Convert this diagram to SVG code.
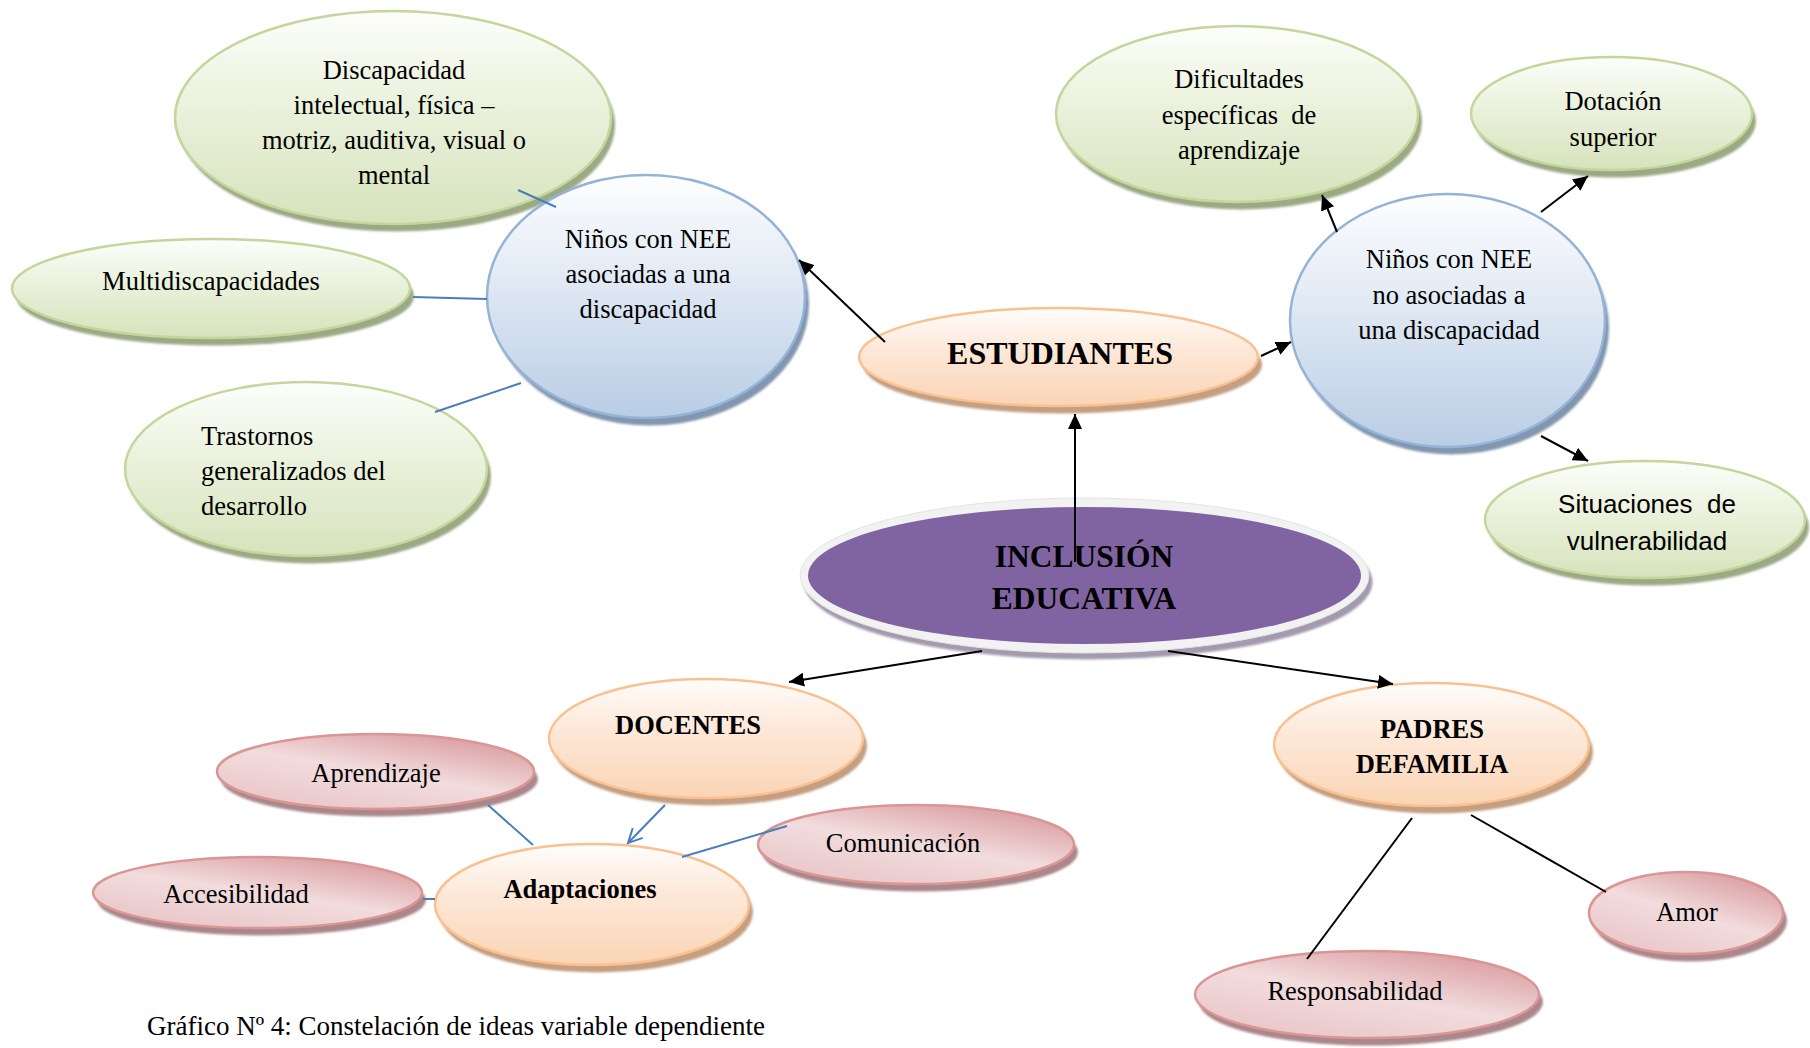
<svg xmlns="http://www.w3.org/2000/svg" width="1810" height="1048" viewBox="0 0 1810 1048">
<style>
.t{font-family:"Liberation Serif","Times New Roman",serif;font-size:26.5px;fill:#000;text-anchor:middle}
.l{text-anchor:start}
.b{font-weight:bold}
.sans{font-family:"Liberation Sans",Arial,sans-serif}
.pre{white-space:pre}
.green{fill:url(#gGreen);stroke:#c3d69b;stroke-width:2.5}
.blue{fill:url(#gBlue);stroke:#95b3d7;stroke-width:2.5}
.orange{fill:url(#gOrange);stroke:#fac08f;stroke-width:2.5}
.pink{fill:url(#gPink);stroke:#d99694;stroke-width:2.5}
.shg{fill:#9ca985;filter:url(#blur)}
.shb{fill:#8296b0;filter:url(#blur)}
.sho{fill:#c49f82;filter:url(#blur)}
.shp{fill:#ab878b;filter:url(#blur)}
.k{stroke:#000;stroke-width:2;fill:none}
.ka{marker-end:url(#ah)}
.bl{stroke:#4a7ebb;stroke-width:2;fill:none}
</style>
<defs>
<linearGradient id="gGreen" x1="0" y1="0" x2="0" y2="1">
<stop offset="0" stop-color="#fdfefb"/><stop offset="0.35" stop-color="#eef4e2"/><stop offset="1" stop-color="#d6e3bc"/>
</linearGradient>
<linearGradient id="gBlue" x1="0" y1="0" x2="0" y2="1">
<stop offset="0" stop-color="#fdfeff"/><stop offset="0.4" stop-color="#e3ebf5"/><stop offset="1" stop-color="#b9cde5"/>
</linearGradient>
<linearGradient id="gOrange" x1="0" y1="0" x2="0" y2="1">
<stop offset="0" stop-color="#fffdfb"/><stop offset="0.4" stop-color="#fde9da"/><stop offset="1" stop-color="#fbd4b4"/>
</linearGradient>
<linearGradient id="gPink" x1="0.85" y1="0" x2="0.15" y2="1">
<stop offset="0" stop-color="#d8979b"/><stop offset="0.5" stop-color="#f2dcdd"/><stop offset="1" stop-color="#e8c4c6"/>
</linearGradient>
<filter id="blur" x="-10%" y="-10%" width="120%" height="130%"><feGaussianBlur stdDeviation="1.2"/></filter>
<marker id="ah" markerUnits="userSpaceOnUse" markerWidth="16" markerHeight="14" refX="15" refY="7" orient="auto">
<path d="M0,0 L15,7 L0,14 z" fill="#000"/>
</marker>
<marker id="ahOpen" markerUnits="userSpaceOnUse" markerWidth="18" markerHeight="18" refX="15" refY="8" orient="auto">
<path d="M1,1 L15,8 L1,15" fill="none" stroke="#4a7ebb" stroke-width="2"/>
</marker>
</defs>

<rect width="1810" height="1048" fill="#fff"/>

<g id="n-discapacidad">
<ellipse class="shg" cx="397" cy="125" rx="218" ry="106.5"/>
<ellipse class="green" cx="393" cy="117.5" rx="218" ry="106.5"/>
<text class="t"><tspan x="394" y="79">Discapacidad</tspan><tspan x="394" y="114">intelectual, física –</tspan><tspan x="394" y="149">motriz, auditiva, visual o</tspan><tspan x="394" y="184">mental</tspan></text>
</g>

<g id="n-multi">
<ellipse class="shg" cx="215" cy="296" rx="199" ry="49.5"/>
<ellipse class="green" cx="211" cy="288.5" rx="199" ry="49.5"/>
<text class="t" x="211" y="290">Multidiscapacidades</text>
</g>

<g id="n-trastornos">
<ellipse class="shg" cx="310" cy="476.5" rx="181" ry="87"/>
<ellipse class="green" cx="306" cy="469" rx="181" ry="87"/>
<text class="t l"><tspan x="201" y="445">Trastornos</tspan><tspan x="201" y="480">generalizados del</tspan><tspan x="201" y="515">desarrollo</tspan></text>
</g>

<g id="n-nee-asociadas">
<ellipse class="shb" cx="650" cy="304" rx="159" ry="121.5"/>
<ellipse class="blue" cx="646" cy="296.5" rx="159" ry="121.5"/>
<text class="t"><tspan x="648" y="248">Niños con NEE</tspan><tspan x="648" y="283">asociadas a una</tspan><tspan x="648" y="318">discapacidad</tspan></text>
</g>

<g id="n-estudiantes">
<ellipse class="sho" cx="1062.5" cy="364.5" rx="199.5" ry="49"/>
<ellipse class="orange" cx="1058.5" cy="357" rx="199.5" ry="49"/>
<text class="t b" x="1060" y="364" style="font-size:32px">ESTUDIANTES</text>
</g>

<g id="n-nee-no-asociadas">
<ellipse class="shb" cx="1451.5" cy="328" rx="157.5" ry="126.5"/>
<ellipse class="blue" cx="1447.5" cy="320.5" rx="157.5" ry="126.5"/>
<text class="t"><tspan x="1449" y="268">Niños con NEE</tspan><tspan x="1449" y="304">no asociadas a</tspan><tspan x="1449" y="339">una discapacidad</tspan></text>
</g>

<g id="n-dificultades">
<ellipse class="shg" cx="1241" cy="121.5" rx="181" ry="88"/>
<ellipse class="green" cx="1237" cy="114" rx="181" ry="88"/>
<text class="t pre"><tspan x="1239" y="88">Dificultades</tspan><tspan x="1239" y="124">específicas  de</tspan><tspan x="1239" y="159">aprendizaje</tspan></text>
</g>

<g id="n-dotacion">
<ellipse class="shg" cx="1615.5" cy="121" rx="140.5" ry="56.5"/>
<ellipse class="green" cx="1611.5" cy="113.5" rx="140.5" ry="56.5"/>
<text class="t"><tspan x="1613" y="110">Dotación</tspan><tspan x="1613" y="146">superior</tspan></text>
</g>

<g id="n-situaciones">
<ellipse class="shg" cx="1649" cy="527" rx="160" ry="58.5"/>
<ellipse class="green" cx="1645" cy="519.5" rx="160" ry="58.5"/>
<text class="t sans pre" style="font-size:26px"><tspan x="1647" y="513">Situaciones  de</tspan><tspan x="1647" y="550">vulnerabilidad</tspan></text>
</g>

<g id="n-inclusion">
<ellipse cx="1088" cy="582" rx="284.5" ry="77.5" fill="#a39aae" filter="url(#blur)"/>
<ellipse cx="1084.5" cy="575.5" rx="284.5" ry="77.5" fill="#f2f2f2" stroke="#e4e4e4" stroke-width="1"/>
<ellipse cx="1084.5" cy="575.5" rx="276.5" ry="68.5" fill="#8064a2"/>
</g>

<g id="n-docentes">
<ellipse class="sho" cx="710" cy="746" rx="157" ry="59.5"/>
<ellipse class="orange" cx="706" cy="738.5" rx="157" ry="59.5"/>
<text class="t b" x="688" y="734">DOCENTES</text>
</g>

<g id="n-adaptaciones">
<ellipse class="sho" cx="596" cy="912" rx="157" ry="60.5"/>
<ellipse class="orange" cx="592" cy="904.5" rx="157" ry="60.5"/>
<text class="t b" x="580" y="898">Adaptaciones</text>
</g>

<g id="n-aprendizaje">
<ellipse class="shp" cx="379.5" cy="779" rx="158.5" ry="37.5"/>
<ellipse class="pink" cx="375.5" cy="771.5" rx="158.5" ry="37.5"/>
<text class="t" x="376" y="782">Aprendizaje</text>
</g>

<g id="n-accesibilidad">
<ellipse class="shp" cx="261.5" cy="900" rx="164.5" ry="35.5"/>
<ellipse class="pink" cx="257.5" cy="892.5" rx="164.5" ry="35.5"/>
<text class="t" x="236" y="903">Accesibilidad</text>
</g>

<g id="n-comunicacion">
<ellipse class="shp" cx="920" cy="852" rx="158" ry="39.5"/>
<ellipse class="pink" cx="916" cy="844.5" rx="158" ry="39.5"/>
<text class="t" x="903" y="852">Comunicación</text>
</g>

<g id="n-padres">
<ellipse class="sho" cx="1435.5" cy="752" rx="157.5" ry="61.5"/>
<ellipse class="orange" cx="1431.5" cy="744.5" rx="157.5" ry="61.5"/>
<text class="t b"><tspan x="1432" y="738">PADRES</tspan><tspan x="1432" y="773">DEFAMILIA</tspan></text>
</g>

<g id="n-amor">
<ellipse class="shp" cx="1690" cy="920.5" rx="97" ry="41"/>
<ellipse class="pink" cx="1686" cy="913" rx="97" ry="41"/>
<text class="t" x="1687" y="921">Amor</text>
</g>

<g id="n-responsabilidad">
<ellipse class="shp" cx="1371" cy="1002" rx="172" ry="43.5"/>
<ellipse class="pink" cx="1367" cy="994.5" rx="172" ry="43.5"/>
<text class="t" x="1355" y="1000">Responsabilidad</text>
</g>

<g id="connectors">
<line class="k ka" x1="1075" y1="562" x2="1075" y2="414"/>
<line class="k ka" x1="885" y1="342" x2="799" y2="260"/>
<line class="k ka" x1="1261" y1="356" x2="1291" y2="342"/>
<line class="k ka" x1="1337" y1="232" x2="1322" y2="195"/>
<line class="k ka" x1="1541" y1="212" x2="1588" y2="176"/>
<line class="k ka" x1="1541" y1="436" x2="1588" y2="461"/>
<line class="k ka" x1="982" y1="651" x2="789" y2="682"/>
<line class="k ka" x1="1168" y1="651" x2="1393" y2="684"/>
<line class="k" x1="1412" y1="818" x2="1307" y2="959"/>
<line class="k" x1="1471" y1="815" x2="1606" y2="892"/>
<line class="bl" x1="518" y1="190" x2="556" y2="207"/>
<line class="bl" x1="413" y1="297" x2="487" y2="299"/>
<line class="bl" x1="435" y1="412" x2="521" y2="383"/>
<line class="bl" x1="488" y1="805" x2="533" y2="845"/>
<line class="bl" x1="787" y1="826" x2="682" y2="857"/>
<line class="bl" x1="423" y1="899" x2="435" y2="899"/>
<line class="bl" x1="665" y1="805" x2="628" y2="843" marker-end="url(#ahOpen)"/>
</g>

<g id="inclusion-label">
<text class="t b" style="font-size:31.5px"><tspan x="1084" y="567">INCLUSIÓN</tspan><tspan x="1084" y="609">EDUCATIVA</tspan></text>
</g>

<text class="t l" x="147" y="1035" style="font-size:27px">Gráfico Nº 4: Constelación de ideas variable dependiente</text>
</svg>
